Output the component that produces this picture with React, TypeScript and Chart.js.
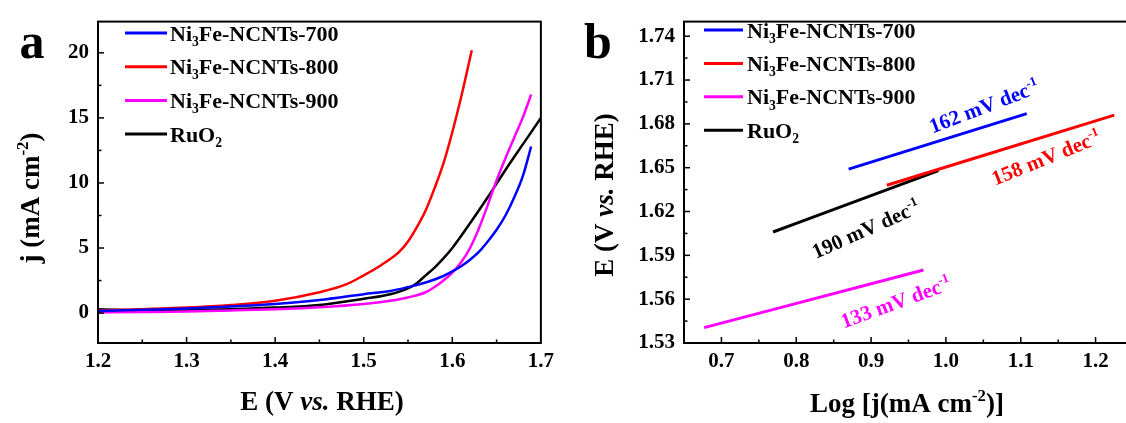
import React, { useEffect, useRef } from 'react';
import { Chart, registerables } from 'chart.js';

Chart.register(...registerables);

// ---------------- data ----------------
const SERIES_NAMES = ['Ni_{3}Fe-NCNTs-700', 'Ni_{3}Fe-NCNTs-800', 'Ni_{3}Fe-NCNTs-900', 'RuO_{2}'];
const SERIES_COLORS = ['#0000FF', '#FF0000', '#FF00FF', '#000000'];

// Panel a: LSV curves, E (V vs. RHE) -> j (mA cm-2)
const E_700 = [1.2, 1.25, 1.3, 1.35, 1.4, 1.45, 1.5, 1.53, 1.55, 1.57, 1.59, 1.6, 1.61, 1.62, 1.63, 1.64, 1.65, 1.66, 1.67, 1.68, 1.689];
const J_700 = [0.15, 0.25, 0.35, 0.5, 0.7, 1.0, 1.45, 1.7, 2.0, 2.35, 2.85, 3.2, 3.6, 4.1, 4.7, 5.5, 6.4, 7.5, 8.9, 10.6, 12.8];

const E_800 = [1.2, 1.25, 1.3, 1.35, 1.4, 1.45, 1.48, 1.5, 1.52, 1.54, 1.55, 1.56, 1.57, 1.58, 1.59, 1.6, 1.61, 1.622];
const J_800 = [0.2, 0.3, 0.42, 0.62, 0.95, 1.6, 2.2, 2.9, 3.7, 4.7, 5.5, 6.6, 7.9, 9.6, 11.5, 13.9, 16.6, 20.2];

const E_900 = [1.2, 1.25, 1.3, 1.35, 1.4, 1.45, 1.5, 1.53, 1.55, 1.57, 1.58, 1.59, 1.6, 1.61, 1.62, 1.63, 1.64, 1.65, 1.66, 1.67, 1.68, 1.689];
const J_900 = [0.05, 0.08, 0.12, 0.2, 0.3, 0.45, 0.7, 0.95, 1.2, 1.6, 2.0, 2.5, 3.1, 3.9, 5.0, 6.5, 8.3, 10.2, 11.9, 13.5, 15.1, 16.8];

const E_RUO2 = [1.2, 1.25, 1.3, 1.35, 1.4, 1.45, 1.5, 1.53, 1.55, 1.56, 1.57, 1.58, 1.59, 1.6, 1.62, 1.64, 1.66, 1.68, 1.7];
const J_RUO2 = [0.3, 0.2, 0.22, 0.3, 0.42, 0.62, 1.1, 1.45, 1.9, 2.3, 2.9, 3.5, 4.2, 5.0, 6.9, 8.9, 11.0, 13.0, 15.0];

// Panel b: Tafel lines, Log j -> E
const LOGJ_700 = [0.87, 1.108];
const ETAFEL_700 = [1.649, 1.687];
const LOGJ_800 = [0.921, 1.225];
const ETAFEL_800 = [1.638, 1.686];
const LOGJ_900 = [0.677, 0.97];
const ETAFEL_900 = [1.5405, 1.58];
const LOGJ_RUO2 = [0.769, 0.99];
const ETAFEL_RUO2 = [1.606, 1.648];

const TAFEL_TEXT = ['162 mV dec^{-1}', '158 mV dec^{-1}', '133 mV dec^{-1}', '190 mV dec^{-1}'];
const TAFEL_TEXT_X = [1.051, 1.134, 0.933, 0.893];
const TAFEL_TEXT_Y = [1.692, 1.657, 1.558, 1.608];
const TAFEL_TEXT_ANGLE = [-21, -22, -20, -24];

// tick labels
const A_X_TICKS = [1.2, 1.3, 1.4, 1.5, 1.6, 1.7];
const A_Y_TICKS = [0, 5, 10, 15, 20];
const B_X_TICKS = [0.7, 0.8, 0.9, 1.0, 1.1, 1.2];
const B_Y_TICKS = [1.53, 1.56, 1.59, 1.62, 1.65, 1.68, 1.71, 1.74];

// ---------------- helpers ----------------
const FAMILY = '"Liberation Serif", "Times New Roman", Times, serif';
const fontStr = (size: number, italic = false) => `${italic ? 'italic ' : ''}bold ${size}px ${FAMILY}`;

type Seg = { t: string; k: 'n' | 'sub' | 'sup' | 'it' };

function parseRich(s: string): Seg[] {
  const out: Seg[] = [];
  const re = /([_^*])\{([^}]*)\}/g;
  let last = 0;
  let m: RegExpExecArray | null;
  while ((m = re.exec(s))) {
    if (m.index > last) out.push({ t: s.slice(last, m.index), k: 'n' });
    out.push({ t: m[2], k: m[1] === '_' ? 'sub' : m[1] === '^' ? 'sup' : 'it' });
    last = re.lastIndex;
  }
  if (last < s.length) out.push({ t: s.slice(last), k: 'n' });
  return out;
}

const segSize = (s: Seg, size: number) => (s.k === 'sub' || s.k === 'sup' ? size * 0.62 : size);

function drawRich(ctx: CanvasRenderingContext2D, text: string, x: number, y: number, size: number, color: string, align: 'left' | 'center') {
  const segs = parseRich(text);
  let w = 0;
  for (const s of segs) {
    ctx.font = fontStr(segSize(s, size), s.k === 'it');
    w += ctx.measureText(s.t).width;
  }
  let cx = align === 'center' ? x - w / 2 : x;
  ctx.fillStyle = color;
  ctx.textAlign = 'left';
  ctx.textBaseline = 'alphabetic';
  for (const s of segs) {
    ctx.font = fontStr(segSize(s, size), s.k === 'it');
    const dy = s.k === 'sub' ? size * 0.24 : s.k === 'sup' ? -size * 0.4 : 0;
    ctx.fillText(s.t, cx, y + dy);
    cx += ctx.measureText(s.t).width;
  }
}

const pts = (xs: number[], ys: number[]) => xs.map((x, i) => ({ x, y: ys[i] }));
const minorOf = (ticks: number[]) => {
  const step = ticks[1] - ticks[0];
  const res: number[] = [];
  for (let i = -1; i < ticks.length; i++) res.push(ticks[0] + step * (i + 0.5));
  return res;
};

type Decor = {
  xTicks: number[];
  yTicks: number[];
  legend: { x0: number; x1: number; tx: number; y0: number; dy: number };
  xTitle: { text: string; x: number; y: number };
  yTitle: { text: string; x: number; y: number };
  letter: { text: string; x: number; y: number };
  notes?: boolean;
};

function makeDecor(d: Decor) {
  return {
    id: 'decor',
    afterDraw(chart: any) {
      const { ctx, chartArea: a, scales } = chart;
      const xs = scales.x;
      const ys = scales.y;
      ctx.save();
      // frame
      ctx.strokeStyle = '#000';
      ctx.lineWidth = 2;
      ctx.strokeRect(a.left, a.top, a.right - a.left, a.bottom - a.top);
      // inward ticks
      ctx.lineWidth = 1.5;
      const tick = (v: number, len: number, horiz: boolean) => {
        if (horiz) {
          const p = xs.getPixelForValue(v);
          if (p <= a.left + 1 || p >= a.right - 1) return;
          ctx.beginPath();
          ctx.moveTo(p, a.bottom);
          ctx.lineTo(p, a.bottom - len);
          ctx.stroke();
        } else {
          const p = ys.getPixelForValue(v);
          if (p <= a.top + 1 || p >= a.bottom - 1) return;
          ctx.beginPath();
          ctx.moveTo(a.left, p);
          ctx.lineTo(a.left + len, p);
          ctx.stroke();
        }
      };
      d.xTicks.forEach((v) => tick(v, 6, true));
      minorOf(d.xTicks).forEach((v) => tick(v, 3.5, true));
      d.yTicks.forEach((v) => tick(v, 6, false));
      minorOf(d.yTicks).forEach((v) => tick(v, 3.5, false));
      // legend
      chart.data.datasets.forEach((ds: any, i: number) => {
        const y = d.legend.y0 + i * d.legend.dy;
        ctx.strokeStyle = ds.borderColor;
        ctx.lineWidth = 3;
        ctx.beginPath();
        ctx.moveTo(d.legend.x0, y);
        ctx.lineTo(d.legend.x1, y);
        ctx.stroke();
        drawRich(ctx, ds.label, d.legend.tx, y + 7.5, 22, '#000', 'left');
      });
      // notes (panel b)
      if (d.notes) {
        TAFEL_TEXT.forEach((t, i) => {
          const px = xs.getPixelForValue(TAFEL_TEXT_X[i]);
          const py = ys.getPixelForValue(TAFEL_TEXT_Y[i]);
          ctx.save();
          ctx.translate(px, py);
          ctx.rotate((TAFEL_TEXT_ANGLE[i] * Math.PI) / 180);
          drawRich(ctx, t, 0, 7, 21, SERIES_COLORS[i], 'center');
          ctx.restore();
        });
      }
      // titles
      drawRich(ctx, d.xTitle.text, d.xTitle.x, d.xTitle.y + 9, 27, '#000', 'center');
      ctx.save();
      ctx.translate(d.yTitle.x, d.yTitle.y);
      ctx.rotate(-Math.PI / 2);
      drawRich(ctx, d.yTitle.text, 0, 9, 27, '#000', 'center');
      ctx.restore();
      // panel letter
      ctx.font = fontStr(50);
      ctx.fillStyle = '#000';
      ctx.textAlign = 'center';
      ctx.textBaseline = 'alphabetic';
      ctx.fillText(d.letter.text, d.letter.x, d.letter.y);
      ctx.restore();
    },
  };
}

const tickFont = { family: FAMILY, size: 21, weight: 'bold' as const };

function axis(min: number, max: number, ticks: number[], digits: number, padding: number, fit: (s: any) => void) {
  return {
    type: 'linear' as const,
    min,
    max,
    grid: { display: false, drawTicks: false },
    border: { display: false },
    ticks: {
      font: tickFont,
      color: '#000',
      padding,
      autoSkip: false,
      maxRotation: 0,
      includeBounds: false,
      callback: (v: any) => Number(v).toFixed(digits),
    },
    afterBuildTicks: (s: any) => {
      s.ticks = ticks.map((v) => ({ value: v }));
    },
    afterFit: fit,
  };
}

function makeDatasets(sets: { x: number[]; y: number[] }[], width: number) {
  return sets.map((s, i) => ({
    label: SERIES_NAMES[i],
    data: pts(s.x, s.y),
    borderColor: SERIES_COLORS[i],
    backgroundColor: SERIES_COLORS[i],
    borderWidth: width,
    pointRadius: 0,
    fill: false,
    cubicInterpolationMode: 'monotone' as const,
  }));
}

export default function App() {
  const refA = useRef<HTMLCanvasElement>(null);
  const refB = useRef<HTMLCanvasElement>(null);

  useEffect(() => {
    const chartA = new Chart(refA.current as HTMLCanvasElement, {
      type: 'line',
      data: {
        datasets: makeDatasets(
          [
            { x: E_700, y: J_700 },
            { x: E_800, y: J_800 },
            { x: E_900, y: J_900 },
            { x: E_RUO2, y: J_RUO2 },
          ],
          2.5
        ),
      },
      options: {
        animation: false,
        responsive: false,
        devicePixelRatio: 1,
        layout: { padding: { left: 0, right: 13, top: 11, bottom: 0 }, autoPadding: false },
        plugins: { legend: { display: false }, tooltip: { enabled: false } },
        scales: {
          x: axis(1.2, 1.7, A_X_TICKS, 1, 6, (s: any) => { s.height = 80; }),
          y: axis(-2.3, 22.4, A_Y_TICKS, 0, 9, (s: any) => { s.width = 98; }),
        },
      },
      plugins: [
        makeDecor({
          xTicks: A_X_TICKS,
          yTicks: A_Y_TICKS,
          legend: { x0: 125, x1: 167, tx: 170, y0: 33, dy: 33.7 },
          xTitle: { text: 'E (V *{vs.} RHE)', x: 322, y: 401 },
          yTitle: { text: 'j (mA cm^{-2})', x: 30, y: 198 },
          letter: { text: 'a', x: 32, y: 58 },
        }),
      ],
    } as any);

    const chartB = new Chart(refB.current as HTMLCanvasElement, {
      type: 'line',
      data: {
        datasets: makeDatasets(
          [
            { x: LOGJ_700, y: ETAFEL_700 },
            { x: LOGJ_800, y: ETAFEL_800 },
            { x: LOGJ_900, y: ETAFEL_900 },
            { x: LOGJ_RUO2, y: ETAFEL_RUO2 },
          ],
          3
        ),
      },
      options: {
        animation: false,
        responsive: false,
        devicePixelRatio: 1,
        layout: { padding: { left: 0, right: 7, top: 11, bottom: 0 }, autoPadding: false },
        plugins: { legend: { display: false }, tooltip: { enabled: false } },
        scales: {
          x: axis(0.65, 1.25, B_X_TICKS, 1, 6, (s: any) => { s.height = 80; }),
          y: axis(1.53, 1.75, B_Y_TICKS, 2, 9, (s: any) => { s.width = 124; }),
        },
      },
      plugins: [
        makeDecor({
          xTicks: B_X_TICKS,
          yTicks: B_Y_TICKS,
          legend: { x0: 144, x1: 183, tx: 187, y0: 30, dy: 33.4 },
          xTitle: { text: 'Log [j(mA cm^{-2})]', x: 347, y: 403 },
          yTitle: { text: 'E (V *{vs.} RHE)', x: 44, y: 195 },
          letter: { text: 'b', x: 38, y: 58 },
          notes: true,
        }),
      ],
    } as any);

    return () => {
      chartA.destroy();
      chartB.destroy();
    };
  }, []);

  return (
    <div style={{ position: 'fixed', left: 0, top: 0, width: 1126, height: 423, overflow: 'hidden', background: '#fff' }}>
      <canvas ref={refA} width={560} height={423} style={{ position: 'absolute', left: 0, top: 0, width: 560, height: 423 }} />
      <canvas ref={refB} width={580} height={423} style={{ position: 'absolute', left: 560, top: 0, width: 580, height: 423 }} />
    </div>
  );
}
